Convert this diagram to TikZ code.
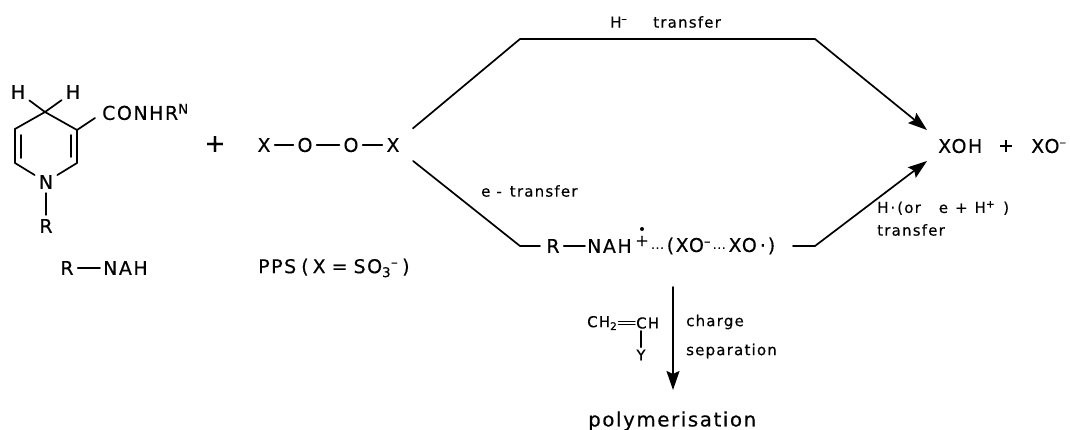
\documentclass[tikz,border=0pt]{standalone}
\usepackage{fontspec}
\setmainfont[LetterSpace=8,FakeBold=0.4]{DejaVu Sans}
\usetikzlibrary{arrows.meta,positioning,calc}
\tikzset{%
  every atom/.style={
    inner sep=4pt,
    font=\fontsize{19}{22}\selectfont
  },
  big plus/.style={
    inner sep=0pt,
    font=\fontsize{25}{25}\selectfont
  },
  small label/.style={
    inner sep=0pt,
    anchor=west,
    font=\fontsize{15}{18}\selectfont
  },
  bond/.style={
    line width=1.7pt
  },
}
\newcommand{\weakdots}{\hspace{2pt}{\fontsize{11}{11}\selectfont ·\hspace{1pt}·\hspace{1pt}·}\hspace{3pt}}

\begin{document}
\begin{tikzpicture}[x=1pt, y=-1pt, >={Stealth[length=19pt,width=13pt,inset=3pt]}, line cap=round]

\useasboundingbox (0,0) rectangle (1070,430);

% ring
\coordinate (ring-top) at (45,112);
\coordinate (ring-ul) at (15,129);
\coordinate (ring-ur) at (77,130);
\coordinate (ring-ll) at (15,163);
\coordinate (ring-lr) at (77,163);
\node [every atom/.try] (ring-n) at (46,182) {N};
\node [every atom/.try] (ring-r) at (46,226) {R};
\node [every atom/.try] (ring-h1) at (18,92) {H};
\node [every atom/.try] (ring-h2) at (73,92) {H};
\node [every atom/.try, anchor=west, inner sep=0pt] (conhr) at (102,112) {CONHR\textsuperscript{N}};

\draw [bond] (ring-ll) -- (ring-ul) -- (ring-top) -- (ring-ur) -- (ring-lr);
\draw [bond] (ring-ll) -- (ring-n) -- (ring-lr);
\draw [bond] (21,135) -- (21,158);
\draw [bond] (71,135) -- (71,157);
\draw [bond] (ring-n) -- (ring-r);
\draw [bond] (ring-top) -- (ring-h1);
\draw [bond] (ring-top) -- (ring-h2);
\draw [bond] (ring-ur) -- (95,118);

\node [big plus] (plus) at (215,144) {+};

% peroxide
\foreach \t/\xx [count=\y] in {X/264,O/305,O/351,X/393}
  \node [every atom/.try] (pps-\y) at (\xx,145) {\t};
\foreach \i/\j in {1/2,2/3,3/4}
  \draw [bond] (pps-\i) -- (pps-\j);

% names
\node [every atom/.try] (name-r) at (67,268) {R};
\node [every atom/.try, anchor=west, inner sep=0pt] (name-nah) at (103,268) {NAH};
\draw [bond, shorten >=3pt] (name-r) -- (name-nah);
\node [every atom/.try, anchor=west, inner sep=0pt] (name-pps) at (258,268) {PPS\hspace{5pt}(\hspace{4pt}X\hspace{6pt}=\hspace{6pt}SO\textsubscript{3}\textsuperscript{--}\hspace{4pt})};

% complex
\node [every atom/.try] (mid-r) at (553,246) {R};
\node [every atom/.try, anchor=west, inner sep=0pt] (mid-nah) at (587,246) {NAH};
\node [every atom/.try, inner sep=0pt, font=\fontsize{16}{16}\selectfont] (mid-plus) at (642,241) {+};
\node [circle, fill, inner sep=0pt, minimum size=4pt] (mid-dot) at (642,229) {};
\node [every atom/.try, anchor=west, inner sep=0pt] (mid-rest) at (649,246) {\weakdots(XO\textsuperscript{--}\weakdots XO\hspace{3pt}·\hspace{2pt})};
\draw [bond, shorten >=2pt] (mid-r) -- (mid-nah);

% products
\node [every atom/.try, anchor=west, inner sep=0pt] (xoh) at (938,146) {XOH};
\node [every atom/.try] (xplus) at (1006,146) {+};
\node [every atom/.try, anchor=west, inner sep=0pt] (xo) at (1031,146) {XO\textsuperscript{--}};

% pathways
\coordinate (up-a) at (520,39);
\coordinate (up-b) at (815,39);
\coordinate (up-tip) at (927,130);
\coordinate (low-a) at (520,246);
\coordinate (low-b) at (540,246);
\coordinate (low-c) at (793,246);
\coordinate (low-d) at (815,246);
\coordinate (low-tip) at (927,161);
\draw [bond, ->, shorten <=12pt] (pps-4) -- (up-a) -- (up-b) -- (up-tip);
\draw [bond, shorten <=12pt] (pps-4) -- (low-a) -- (low-b);
\draw [bond, ->] (low-c) -- (low-d) -- (low-tip);

\node [small label] (lab-h) at (610,22) {H\textsuperscript{--}\hspace{26pt}transfer};
\node [small label] (lab-e) at (481,191) {e\hspace{6pt}-\hspace{8pt}transfer};
\node [small label] (lab-or) at (877,208) {H\hspace{2pt}·\hspace{2pt}(or\hspace{18pt}e\hspace{7pt}+\hspace{7pt}H\textsuperscript{+}\hspace{8pt})};
\node [small label] (lab-tr) at (877,230) {transfer};

% polymerisation
\coordinate (pol-top) at (673,287);
\node [every atom/.try, anchor=west, inner sep=0pt, font=\fontsize{19.8}{22}\selectfont] (polym) at (588,421) {polymerisation};
\coordinate (pol-tip) at (673,390);
\draw [bond, ->] (pol-top) -- (pol-tip);
\node [small label] (vinyl) at (587,323) {CH\textsubscript{2}};
\node [small label] (vinyl-ch) at (636,323) {CH};
\node [small label, anchor=center] (vinyl-y) at (641,355) {Y};
\draw [line width=1.2pt, transform canvas={yshift=1.5pt}, shorten <=1pt, shorten >=1pt] (vinyl) -- (vinyl-ch);
\draw [line width=1.2pt, transform canvas={yshift=-1.5pt}, shorten <=1pt, shorten >=1pt] (vinyl) -- (vinyl-ch);
\draw [line width=1.2pt, shorten <=2pt, shorten >=2pt] (vinyl-ch.south west -| vinyl-y) -- (vinyl-y);
\node [small label] (lab-ch) at (686,322) {charge};
\node [small label] (lab-sep) at (686,351) {separation};

\end{tikzpicture}
\end{document}
